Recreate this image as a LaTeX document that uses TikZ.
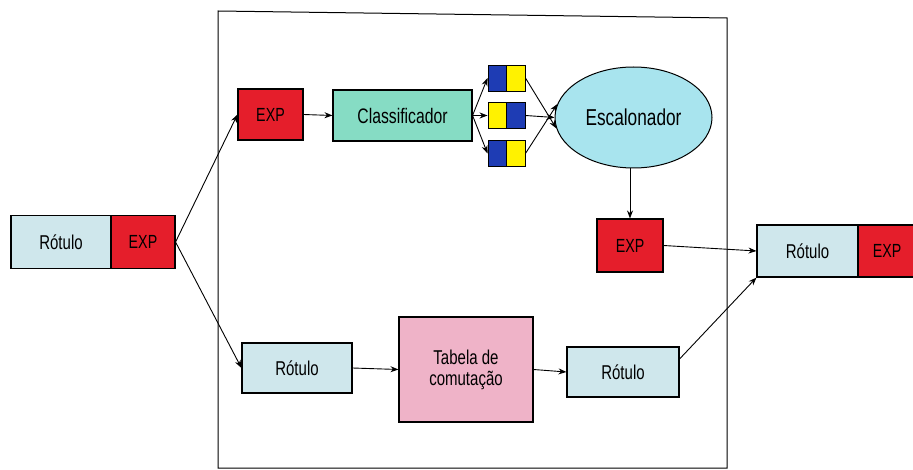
\documentclass[tikz,border=0pt]{standalone}
\usepackage{fontspec}
\setmainfont{Liberation Sans}[FakeStretch=0.75]
\usetikzlibrary{arrows.meta,shapes.geometric}
\definecolor{rotc}{HTML}{CFE7EC}
\definecolor{expc}{HTML}{E51E2B}
\definecolor{clsc}{HTML}{86DCC4}
\definecolor{escc}{HTML}{A8E4EE}
\definecolor{tabc}{HTML}{EFB3C8}
\definecolor{qblue}{HTML}{1E3CB4}
\definecolor{qyel}{HTML}{FFF200}
\tikzset{
  box/.style={draw=black, line width=1.1pt, inner sep=0pt, align=center, font=\fontsize{20}{21}\selectfont},
  rot/.style={box, fill=rotc},
  expb/.style={box, fill=expc, font=\fontsize{19}{21}\selectfont},
  qhalf/.style={draw=black, line width=0.9pt, minimum width=18.5pt, minimum height=26pt, inner sep=0pt},
  arr/.style={line width=0.9pt, -{Stealth[length=8pt,width=6pt]}},
}
\begin{document}
\begin{tikzpicture}[x=1pt,y=-1pt]
\useasboundingbox (0,0) rectangle (913,470);
% frame
\draw[line width=1pt] (218,11) -- (727,18) -- (727,468) -- (218,468) -- cycle;
% left composite
\node[rot, minimum width=100pt, minimum height=53pt] (lrot) at (61,242) {Rótulo};
\node[expb, minimum width=64pt, minimum height=53pt] (lexp) at (143,242) {EXP};
% top row
\node[expb, minimum width=65pt, minimum height=51pt] (texp) at (270.5,114.5) {EXP};
\node[box, fill=clsc, minimum width=139pt, minimum height=51pt, font=\fontsize{21}{22}\selectfont] (cls) at (402.5,115.5) {Classificador};
% queues
\node[qhalf, fill=qblue] (q1a) at (497.25,78) {};
\node[qhalf, fill=qyel] (q1b) at (515.75,78) {};
\node[qhalf, fill=qyel] (q2a) at (497.25,115.5) {};
\node[qhalf, fill=qblue] (q2b) at (515.75,115.5) {};
\node[qhalf, fill=qblue] (q3a) at (497.25,153.5) {};
\node[qhalf, fill=qyel] (q3b) at (515.75,153.5) {};
% scheduler
\node[draw=black, line width=1pt, fill=escc, ellipse, minimum width=157pt, minimum height=101pt, inner sep=0pt, font=\fontsize{23}{24}\selectfont] (esc) at (633.5,117.5) {Escalonador};
\node[expb, minimum width=66pt, minimum height=53pt] (mexp) at (630,245.5) {EXP};
% right composite
\node[rot, minimum width=101pt, minimum height=52pt] (rrot) at (807.5,251) {Rótulo};
\node[expb, minimum width=58pt, minimum height=52pt, text width=58pt] (rexp) at (887,251) {EXP};
% bottom row
\node[rot, minimum width=110pt, minimum height=50pt] (brot1) at (297,368) {Rótulo};
\node[box, fill=tabc, minimum width=134pt, minimum height=105pt] (tab) at (466,369.5) {Tabela de\\comutação};
\node[rot, minimum width=112pt, minimum height=50pt] (brot2) at (623,372) {Rótulo};
% connectors
\draw[arr] (lexp.east) -- (texp.west);
\draw[arr] (lexp.east) -- (brot1.west);
\draw[arr] (texp.east) -- (cls.west);
\draw[arr] (cls.east) -- (q1a.west);
\draw[arr] (cls.east) -- (q2a.west);
\draw[arr] (cls.east) -- (q3a.west);
\draw[arr] (q1b.east) -- (esc.188);
\draw[arr] (q2b.east) -- (esc.west);
\draw[arr] (q3b.east) -- (esc.170);
\draw[arr] (esc.south -| mexp.north) -- (mexp.north);
\draw[arr] (mexp.east) -- (rrot.west);
\draw[arr] (brot1.east) -- (tab.west);
\draw[arr] (tab.east) -- (brot2.west);
\coordinate (b2out) at ([yshift=13pt]brot2.east);
\draw[arr] (b2out) -- (rrot.south west);
\end{tikzpicture}
\end{document}
